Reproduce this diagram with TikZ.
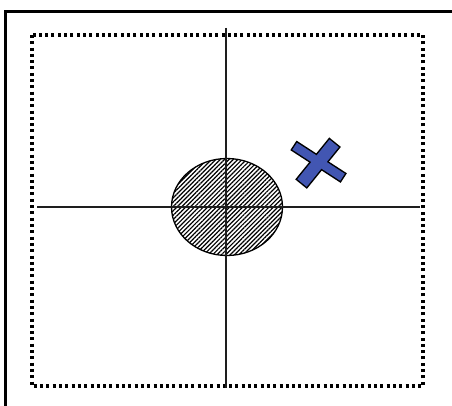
\documentclass[tikz,border=0pt]{standalone}
\usepackage{xcolor}
\definecolor{markblue}{RGB}{66, 86, 178}
\definecolor{axisgray}{RGB}{30, 30, 30}
\usepackage{tikz}
\usetikzlibrary{patterns.meta}

\begin{document}
\begin{tikzpicture}[x=1pt, y=-1pt]
    \useasboundingbox (0,0) rectangle (452,406);
    % frame and dotted field
    \draw[line width=3pt, line cap=rect] (5,406) -- (5,12) -- (452,12);
    \draw[line width=3.2pt, dash pattern=on 3pt off 3.3pt] (32,35) rectangle (423,386);
    % hatched zone
    \coordinate (O) at (227,207);
    \fill[pattern={Lines[angle=45, distance=3.1pt, line width=1.2pt]}] (O) ellipse [x radius=55.5, y radius=48.5];
    \draw[line width=1.3pt] (O) ellipse [x radius=55.5, y radius=48.5];
    % axes
    \draw[line width=1.3pt, axisgray] (226,28) -- (226,388);
    \draw[line width=1.3pt, axisgray] (37,207) -- (420,207);
    % blue cross
    \begin{scope}[shift={(319,162)}]
        \draw[line width=3pt, rotate=51] (-27,-6) rectangle (24,6);
        \draw[line width=3pt, rotate=-33] (-29,-4.2) rectangle (28,4.2);
        \fill[markblue, rotate=51] (-27,-6) rectangle (24,6);
        \fill[markblue, rotate=-33] (-29,-4.2) rectangle (28,4.2);
    \end{scope}
\end{tikzpicture}
\end{document}
